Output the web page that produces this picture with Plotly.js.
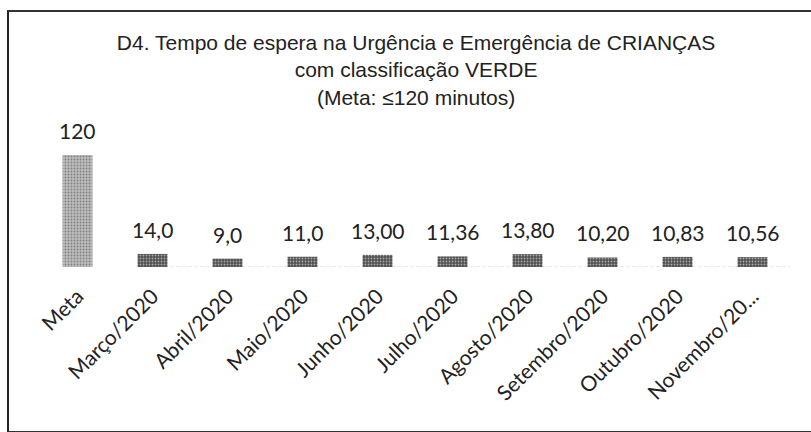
<!DOCTYPE html>
<html>
<head>
<meta charset="utf-8">
<script src="https://cdn.plot.ly/plotly-3.0.1.min.js"></script>
<style>
  html, body { margin: 0; padding: 0; background: #ffffff; }
  #chart { position: absolute; left: 0; top: 0; width: 811px; height: 432px; }
  #frame { position: absolute; left: 7px; top: 10px; width: 820px; height: 419px;
           border-left: 2px solid #222; border-top: 2px solid #333; border-bottom: 2px solid #333;
           pointer-events: none; }
</style>
</head>
<body>
<div id="chart"></div>
<div id="frame"></div>
<script>
const categories = ["Meta", "Março/2020", "Abril/2020", "Maio/2020", "Junho/2020", "Julho/2020",
                    "Agosto/2020", "Setembro/2020", "Outubro/2020", "Novembro/20..."];
const values = [120, 14.0, 9.0, 11.0, 13.00, 11.36, 13.80, 10.20, 10.83, 10.56];
const valueLabels = ["120", "14,0", "9,0", "11,0", "13,00", "11,36", "13,80", "10,20", "10,83", "10,56"];
const barColors = ["#bdbdbd", "#505050", "#505050", "#505050", "#505050", "#505050",
                   "#505050", "#505050", "#505050", "#505050"];
const patternColors = ["#9c9c9c", "#7a7a7a", "#7a7a7a", "#7a7a7a", "#7a7a7a", "#7a7a7a",
                       "#7a7a7a", "#7a7a7a", "#7a7a7a", "#7a7a7a"];

const trace = {
  type: "bar",
  x: categories,
  y: values,
  marker: {
    color: barColors,
    line: { width: 0 },
    pattern: { shape: ".", fillmode: "overlay", fgcolor: patternColors, size: 3, solidity: 0.3 }
  },
  hoverinfo: "none"
};

const annotations = categories.map((c, i) => ({
  x: c, y: values[i], xref: "x", yref: "y",
  text: valueLabels[i], showarrow: false,
  yanchor: "bottom", yshift: 10,
  font: { family: "Lato, 'Open Sans', sans-serif", size: 21, color: "#222" }
}));

const layout = {
  width: 811, height: 432,
  margin: { l: 40, r: 21, t: 155, b: 165 },
  paper_bgcolor: "#ffffff", plot_bgcolor: "#ffffff",
  showlegend: false,
  bargap: 0.6,
  title: {
    text: "D4. Tempo de espera na Urgência e Emergência de CRIANÇAS<br>com classificação VERDE<br>(Meta: ≤120 minutos)",
    x: 0.513, xanchor: "center", xref: "container",
    y: 0.884, yanchor: "middle", yref: "container",
    font: { family: "'Liberation Sans', Arial, sans-serif", size: 21, color: "#222" }
  },
  xaxis: {
    type: "category",
    tickangle: -45,
    ticklabelstandoff: 12,
    tickfont: { family: "Lato, 'Open Sans', sans-serif", size: 21, color: "#222" },
    showline: false, showgrid: false, zeroline: false, ticks: ""
  },
  yaxis: {
    range: [0, 120],
    visible: false, showgrid: false, zeroline: false
  },
  shapes: [{
    type: "line", xref: "paper", yref: "y", x0: 0.15, x1: 1, y0: 0, y1: 0,
    line: { color: "#c8c8c8", width: 1, dash: "dot" }, layer: "below"
  }],
  annotations: annotations
};

Plotly.newPlot("chart", [trace], layout, { displayModeBar: false, staticPlot: true });
</script>
</body>
</html>
